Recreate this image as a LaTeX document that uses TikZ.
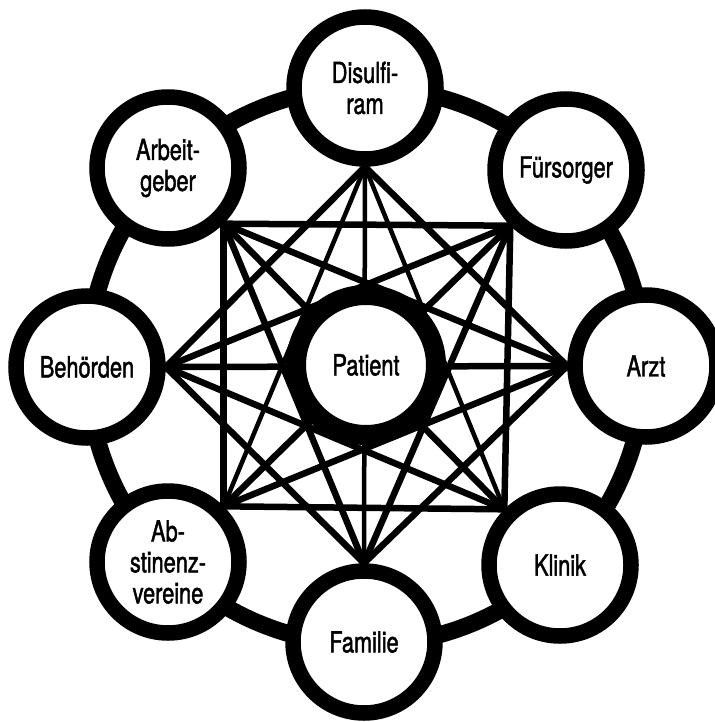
\documentclass[tikz,border=0pt]{standalone}
\usepackage{fontspec}
\setmainfont[FakeStretch=0.75,FakeBold=1.5]{TeX Gyre Heros}
\usetikzlibrary{backgrounds}
\begin{document}
\begin{tikzpicture}[x=1pt,y=-1pt,
  ent/.style={circle,draw,line width=15.5pt,fill=white,minimum size=142pt,inner sep=0pt,align=center,font=\fontsize{29}{31}\selectfont},
  pat/.style={ent,line width=20pt,minimum size=140pt},
  link/.style={line width=6.5pt},
  thinlink/.style={line width=4.5pt},
  ringline/.style={line width=17pt}]
\useasboundingbox (0,0) rectangle (714,722);
\coordinate (O) at (366,366);
\node[pat] (pat) at (366,365) {Patient};
\node[ent] (dis) at (365,88) {Disulfi-\\ram};
\node[ent] (fue) at (566,170) {Fürsorger};
\node[ent] (arz) at (646,366) {Arzt};
\node[ent] (kli) at (560,565) {Klinik};
\node[ent] (fam) at (364,642) {Familie};
\node[ent] (abs) at (168,562) {Ab-\\stinenz-\\vereine};
\node[ent] (beh) at (87,367) {Behörden};
\node[ent] (arb) at (168,168) {Arbeit-\\geber};
\begin{scope}[on background layer]
\draw[ringline] (O) circle[radius=278.5];
% square (distance 2, corners)
\draw[link] (arb.south east) -- (fue.south west);
\draw[link] (fue.south west) -- (kli.north west);
\draw[link] (kli.north west) -- (abs.north east);
\draw[link] (abs.north east) -- (arb.south east);
% diamond (distance 2, axes)
\draw[link] (dis.south) -- (arz.west);
\draw[link] (arz.west) -- (fam.north);
\draw[link] (fam.north) -- (beh.east);
\draw[link] (beh.east) -- (dis.south);
% star (distance 3)
\draw[thinlink] (dis.south) -- (kli.north west);
\draw[thinlink] (dis.south) -- (abs.north east);
\draw[link] (fue.south west) -- (fam.north);
\draw[link] (fue.south west) -- (beh.east);
\draw[link] (arz.west) -- (abs.north east);
\draw[link] (arz.west) -- (arb.south east);
\draw[link] (kli.north west) -- (beh.east);
\draw[link] (fam.north) -- (arb.south east);
% diameters (distance 4)
\draw[thinlink] (dis.south) -- (fam.north);
\draw[link] (beh.east) -- (arz.west);
\draw[link] (arb.south east) -- (kli.north west);
\draw[link] (fue.south west) -- (abs.north east);
\end{scope}
\end{tikzpicture}
\end{document}
